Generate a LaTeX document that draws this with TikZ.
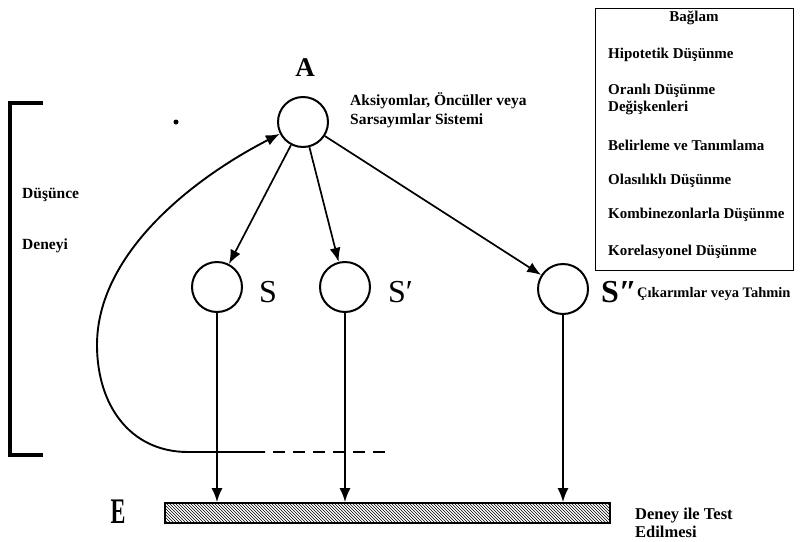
\documentclass[tikz,border=0pt]{standalone}
\usepackage{fontspec}
\setmainfont{Liberation Serif}
\usetikzlibrary{arrows.meta,patterns,positioning}
\tikzset{
  circ/.style = {draw, circle, line width=2pt, minimum size=50pt, inner sep=0pt},
  lbl/.style = {font=\fontsize{15}{17}\selectfont\bfseries, inner sep=0pt, anchor=west, align=left},
  letter/.style = {font=\fontsize{32}{32}\selectfont, inner sep=0pt},
  conn/.style = {->, line width=1.7pt}
}

\begin{document}
\begin{tikzpicture}[x=1pt, y=-1pt, >={Latex[length=14pt,width=11pt]}]
  \useasboundingbox (0,0) rectangle (800,541);
  % circles
  \node (a) [circ] at (303,122) {};
  \node (s1) [circ] at (217,287) {};
  \node (s2) [circ] at (345,287) {};
  \node (s3) [circ] at (563,289) {};
  \node (dot) [circle, fill, inner sep=0pt, minimum size=5pt] at (176,122) {};
  % letters
  \node (la) [letter, font=\fontsize{27}{27}\selectfont\bfseries] at (305,68) {A};
  \node (ls1) [letter] at (268,292) {S};
  \node (ls2) [letter, anchor=west] at (388,292) {S′};
  \node (ls3) [letter, anchor=west, font=\fontsize{32}{32}\selectfont\bfseries] at (601,292) {S″};
  \node (le) [letter, font=\fontsize{36}{36}\selectfont\bfseries] at (118,512) {\scalebox{0.62}[1]{E}};
  % texts
  \node (axioms) [lbl, font=\fontsize{15.5}{19}\selectfont\bfseries] at (350,110) {Aksiyomlar, Öncüller veya\\Sarsayımlar Sistemi};
  \node (infer) [lbl, font=\fontsize{14.5}{17}\selectfont\bfseries] at (637,294) {Çıkarımlar veya Tahmin};
  \node (think) [lbl, font=\fontsize{15.5}{17}\selectfont\bfseries] at (22,195) {Düşünce};
  \node (exper) [lbl, font=\fontsize{15.5}{17}\selectfont\bfseries] at (22,246) {Deneyi};
  \node (test) [lbl, font=\fontsize{16.5}{18}\selectfont\bfseries] at (635,523) {Deney ile Test\\Edilmesi};
  % context box
  \node (ctx) [draw, line width=0.8pt, minimum width=198pt, minimum height=262pt, anchor=north west] at (595,8) {};
  \node (ctxhead) [lbl, anchor=center] at (694,18) {Bağlam};
  \node (hypo) [lbl] at (608,55) {Hipotetik Düşünme};
  \node (ratio) [lbl] at (608,99.5) {Oranlı Düşünme\\Değişkenleri};
  \node (ident) [lbl] at (608,145) {Belirleme ve Tanımlama};
  \node (prob) [lbl] at (608,181) {Olasılıklı Düşünme};
  \node (comb) [lbl] at (608,215) {Kombinezonlarla Düşünme};
  \node (corr) [lbl] at (608,252) {Korelasyonel Düşünme};
  % test bar
  \node (bar) [draw, line width=1.8pt, pattern=north west lines, minimum width=445pt, minimum height=20pt, inner sep=0pt] at (387.5,513) {};
  % bracket
  \draw[line width=4pt] (43,103) -- (10,103) -- (10,455) -- (43,455);
  % arrows
  \draw[conn] (a) -- (s1);
  \draw[conn] (a) -- (s2);
  \draw[conn] (a) -- (s3);
  \draw[conn] (s1) -- (s1 |- bar.north);
  \draw[conn] (s2) -- (s2 |- bar.north);
  \draw[conn] (s3) -- (s3 |- bar.north);
  % feedback loop
  \coordinate (loopend) at (265,452);
  \coordinate (dashstart) at (273,452);
  \coordinate (dashend) at (385,452);
  \draw[conn, line width=1.9pt] (loopend) -- (188,452) .. controls (130,452) and (97,405) .. (97,345)
    .. controls (97,255) and (190,180) .. (a);
  \draw[line width=1.9pt, dash pattern=on 12pt off 8pt] (dashstart) -- (dashend);
\end{tikzpicture}
\end{document}
